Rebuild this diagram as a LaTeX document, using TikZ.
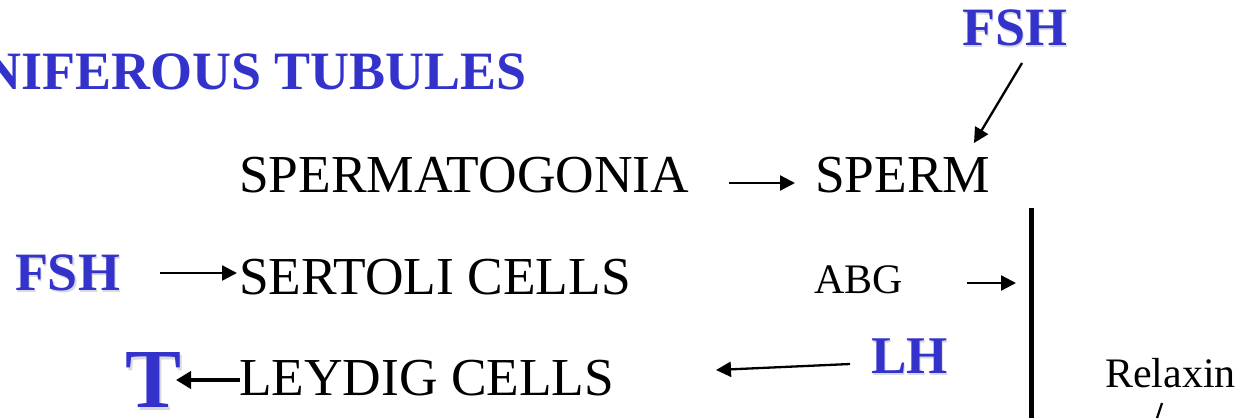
\documentclass[tikz,border=0pt]{standalone}
\usepackage{fontspec}
\setmainfont{Liberation Serif}
\usetikzlibrary{arrows.meta}
\definecolor{hormone}{RGB}{51,51,204}
\definecolor{shade}{RGB}{150,150,160}
\tikzset{
  txt/.style={anchor=base west, inner sep=0pt, outer sep=0pt, text=black},
  big/.style={txt, font=\fontsize{53.4}{53.4}\selectfont},
  small/.style={txt, font=\fontsize{42}{42}\selectfont},
  hor/.style={txt, text=hormone, font=\fontsize{#1}{#1}\selectfont\bfseries},
  hsh/.style={txt, text=shade, text opacity=0.35, font=\fontsize{#1}{#1}\selectfont\bfseries},
  arr/.style={line width=2.3pt, -{Triangle[length=15pt,width=15pt]}},
  thickarr/.style={line width=4pt, -{Triangle[length=15pt,width=17pt]}},
}
\begin{document}
\begin{tikzpicture}[x=1pt, y=-1pt]
  \useasboundingbox (0,0) rectangle (1239,418);

  % heading, running off the left edge
  \node[hor=54, anchor=base east] (title) at (527,89) {SEMINIFEROUS TUBULES};

  % hormones, each with a soft drop shadow
  \node[hsh=54] (fshTopS) at (963.5,47.5) {FSH};
  \node[hor=54] (fshTop) at (962,45) {FSH};
  \node[hsh=54] (fshLeftS) at (16.5,292.5) {FSH};
  \node[hor=54] (fshLeft) at (15,290) {FSH};
  \node[hsh=53] (lhS) at (872.5,375.5) {LH};
  \node[hor=53] (lh) at (871,373) {LH};
  \node[hsh=84] (tS) at (127,410) {T};
  \node[hor=84] (t) at (125,407) {T};

  % cell types
  \node[big] (sgonia) at (239,192) {SPERMATOGONIA};
  \node[big] (sperm) at (815,192) {SPERM};
  \node[big] (sertoli) at (239,294) {SERTOLI CELLS};
  \node[big] (leydig) at (239,395) {LEYDIG CELLS};
  \node[small] (abg) at (814,293) {ABG};
  \node[small] (relaxin) at (1105,387) {Relaxin};

  % arrow end points
  \coordinate (fshTopOut) at (1022,63);
  \coordinate (spermIn) at (974,143);
  \coordinate (sgoniaOut) at (729,183);
  \coordinate (spermL) at (795,183);
  \coordinate (fshLeftOut) at (160,273);
  \coordinate (sertoliIn) at (237,273);
  \coordinate (abgOut) at (967,283);
  \coordinate (barIn) at (1016,283);
  \coordinate (lhOut) at (850,364);
  \coordinate (leydigIn) at (716,370);
  \coordinate (leydigOut) at (240,380);
  \coordinate (tIn) at (176,380);
  \coordinate (barTop) at (1031.5,208);
  \coordinate (barBot) at (1031.5,418);
  \coordinate (relaxTick) at (1162,403);
  \coordinate (relaxTickEnd) at (1157,418);

  % connectors
  \draw[arr] (fshTopOut) -- (spermIn);
  \draw[arr] (sgoniaOut) -- (spermL);
  \draw[arr] (fshLeftOut) -- (sertoliIn);
  \draw[arr] (abgOut) -- (barIn);
  \draw[arr] (lhOut) -- (leydigIn);
  \draw[thickarr] (leydigOut) -- (tIn);

  % barrier line and the tick below Relaxin
  \draw[line width=5pt] (barTop) -- (barBot);
  \draw[line width=2.2pt] (relaxTick) -- (relaxTickEnd);
\end{tikzpicture}
\end{document}
